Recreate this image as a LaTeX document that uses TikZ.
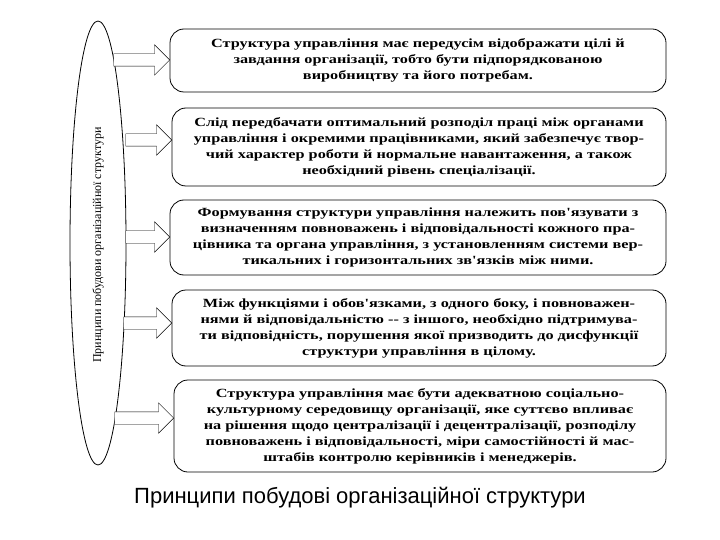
\documentclass[tikz,border=0pt]{standalone}
\usepackage{fontspec}
\setmainfont{Liberation Serif}
\newfontfamily\capfont{Liberation Sans}
\newfontfamily\boxfont[FakeStretch=1.3]{Liberation Serif}
\usetikzlibrary{shapes.arrows,shapes.geometric}
\begin{document}
\begin{tikzpicture}[x=1pt,y=-1pt,
  pbox/.style={draw,thick,rounded corners=14pt,font=\boxfont\bfseries\fontsize{12.5}{16}\selectfont,align=center,inner sep=0pt},
  harrow/.style={draw,fill=white,single arrow,single arrow head extend=9pt,minimum height=#1,inner xsep=0pt,inner ysep=6pt,anchor=tip}]
\useasboundingbox (0,0) rectangle (720,540);
\node[draw,thick,ellipse,minimum width=56pt,minimum height=444pt,inner sep=0pt] (el) at (98,243) {};
\node[rotate=90,font=\fontsize{12}{14}\selectfont] (eltext) at (98,245) {Принципи побудови організаційної структури};
\draw[pbox] (170,29) rectangle (666,92); \node[pbox,draw=none] (b1) at (418,60) {Структура управління має передусім відображати цілі й\\завдання організації, тобто бути підпорядкованою\\виробництву та його потребам.};
\draw[pbox] (172,108) rectangle (666,186); \node[pbox,draw=none] (b2) at (419,147) {Слід передбачати оптимальний розподіл праці між органами\\управління і окремими працівниками, який забезпечує твор-\\чий характер роботи й нормальне навантаження, а також\\необхідний рівень спеціалізації.};
\draw[pbox] (170,200) rectangle (666,275); \node[pbox,draw=none] (b3) at (418,237) {Формування структури управління належить пов'язувати з\\визначенням повноважень і відповідальності кожного пра-\\цівника та органа управління, з установленням системи вер-\\тикальних і горизонтальних зв'язків між ними.};
\draw[pbox] (172,290) rectangle (666,366); \node[pbox,draw=none] (b4) at (419,328) {Між функціями і обов'язками, з одного боку, і повноважен-\\нями й відповідальністю -- з іншого, необхідно підтримува-\\ти відповідність, порушення якої призводить до дисфункції\\структури управління в цілому.};
\draw[pbox] (174,380) rectangle (666,472); \node[pbox,draw=none] (b5) at (420,426) {Структура управління має бути адекватною соціально-\\культурному середовищу організації, яке суттєво впливає\\на рішення щодо централізації і децентралізації, розподілу\\повноважень і відповідальності, міри самостійності й мас-\\штабів контролю керівників і менеджерів.};
\node[harrow=56pt] (a1) at (170,60) {};
\node[harrow=46pt] (a2) at (172,140) {};
\node[harrow=44pt] (a3) at (170,237) {};
\node[harrow=48pt] (a4) at (172,323) {};
\node[harrow=59pt] (a5) at (174,418) {};
\node[font=\capfont\fontsize{22}{24}\selectfont] (cap) at (360,498) {Принципи побудові організаційної структури};
\end{tikzpicture}
\end{document}
